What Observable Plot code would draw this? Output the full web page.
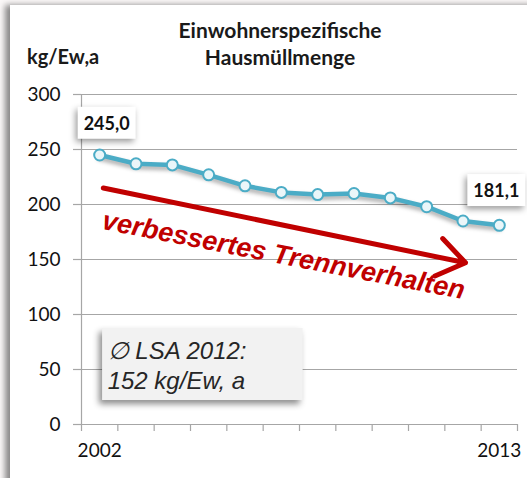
<!DOCTYPE html>
<html>
<head>
<meta charset="utf-8">
<script src="https://cdn.jsdelivr.net/npm/d3@7"></script>
<script src="https://cdn.jsdelivr.net/npm/@observablehq/plot@0.6"></script>
<style>
  html, body { margin: 0; padding: 0; background: #fbf8f8; }
  #wrap { position: relative; width: 527px; height: 478px; overflow: hidden; }
  #frame { position: absolute; left: 10px; top: 5px; width: 600px; height: 600px; background: #fff;
           box-shadow: -5px 0 6px rgba(0,0,0,0.45); }
  #title { position: absolute; left: 130px; width: 300px; top: 16px; text-align: center;
           font: bold 21px Lato, sans-serif; line-height: 27px; color: #1a1a1a; }
  #unit { position: absolute; left: 27px; top: 43px; font: bold 20px Lato, sans-serif; line-height: 27px; color: #1a1a1a; }
  #chart { position: absolute; left: 0; top: 72px; }
</style>
</head>
<body>
<div id="wrap">
  <div id="frame"></div>
  <div id="title">Einwohnerspezifische<br>Hausmüllmenge</div>
  <div id="unit">kg/Ew,a</div>
  <div id="chart"></div>
</div>
<script>
// ---- data ----
const years = [2002, 2003, 2004, 2005, 2006, 2007, 2008, 2009, 2010, 2011, 2012, 2013];
const values = [245.0, 237, 236, 227, 217, 211, 209, 210, 206, 198, 185, 181.1];
const yTicks = [0, 50, 100, 150, 200, 250, 300];
const xLabelYears = [2002, 2013];
const labelIndex = [0, 11];
const labelText = ["245,0", "181,1"];
const labelDx = [7, -3];
const labelDy = [-31, -34];
// annotations (data coordinates)
const arrowYears = [2002.1, 2012.07];
const arrowValues = [215, 147];
const trendText = ["verbessertes Trennverhalten"];
const trendYear = [2007.06];
const trendValue = [153.6];
const boxYears = [2002.08, 2007.6];
const boxValues = [21.8, 87.3];
const lsaText = ["∅ LSA 2012:\n152 kg/Ew, a"];
const lsaYear = [2002.22];
const lsaValue = [54.5];

const data = years.map((y, i) => ({year: y, value: values[i]}));
const labels = labelIndex.map((idx, k) => ({year: years[idx], value: values[idx], text: labelText[k]}));
const bounds = years.map(y => y - 0.5).concat([years[years.length - 1] + 0.5]);

const blue = "#4bacc6";
const red = "#c00000";
const grid = "#a6a6a6";
const boxFill = "#f2f2f2";

const labelMark = (k) => Plot.text([labels[k]], {x: "year", y: "value", text: "text", fontSize: 18, fontWeight: "bold",
  fill: "#111", dx: labelDx[k], dy: labelDy[k]});

const plot = Plot.plot({
  width: 527,
  height: 406,
  marginTop: 22,
  marginBottom: 54,
  marginLeft: 81,
  marginRight: 10,
  style: {background: "transparent", fontFamily: "Lato, sans-serif"},
  x: {type: "linear", domain: [bounds[0], bounds[bounds.length - 1]], axis: null},
  y: {domain: [0, 300], axis: null},
  marks: [
    Plot.gridY(yTicks, {stroke: grid, strokeOpacity: 1, strokeWidth: 1.2}),
    Plot.axisY(yTicks, {tickSize: 8, tickPadding: 13, fontSize: 19, stroke: grid, color: "#111", strokeWidth: 1.2, label: null}),
    Plot.ruleX([bounds[0]], {y1: 0, y2: 300, stroke: grid, strokeWidth: 1.2}),
    Plot.axisX(bounds, {tickSize: 7, tickFormat: () => "", stroke: grid, strokeWidth: 1.2, label: null}),
    Plot.axisX(xLabelYears, {tickSize: 0, tickPadding: 19, fontSize: 19, tickFormat: d => String(d), color: "#111", label: null}),
    // gray annotation box
    Plot.rect([0], {x1: () => boxYears[0], x2: () => boxYears[1], y1: () => boxValues[0], y2: () => boxValues[1],
      fill: boxFill}),
    Plot.text(lsaText, {x: () => lsaYear[0], y: () => lsaValue[0], text: d => d, textAnchor: "start", lineAnchor: "middle",
      lineHeight: 1.25, fontSize: 24, fontStyle: "italic", fontFamily: "Liberation Sans, Arial, sans-serif", fill: "#262626"}),
    // trend arrow
    Plot.arrow([0], {x1: () => arrowYears[0], y1: () => arrowValues[0], x2: () => arrowYears[1], y2: () => arrowValues[1],
      stroke: red, strokeWidth: 5, headLength: 10, headAngle: 70, insetStart: 0, insetEnd: 0}),
    Plot.text(trendText, {x: () => trendYear[0], y: () => trendValue[0], text: d => d, rotate: 11, fontSize: 27,
      fontWeight: "bold", fontStyle: "italic", fontFamily: "Liberation Sans, Arial, sans-serif", fill: red, lineAnchor: "middle"}),
    // data line
    Plot.line(data, {x: "year", y: "value", stroke: blue, strokeWidth: 4.5}),
    Plot.dot(data, {x: "year", y: "value", r: 5.5, fill: "#eaf6f9", stroke: blue, strokeWidth: 2}),
    // value labels
    labelMark(0),
    labelMark(1)
  ]
});

document.getElementById("chart").appendChild(plot);

// shadows (mark-level styling after render)
plot.querySelectorAll("rect").forEach(r => {
  if ((r.getAttribute("fill") || "").toLowerCase() === boxFill ||
      (r.parentNode.getAttribute("fill") || "").toLowerCase() === boxFill) {
    r.style.filter = "drop-shadow(-3px 4px 3px rgba(0,0,0,0.45))";
  }
});
plot.querySelectorAll("path").forEach(p => {
  const s = (p.getAttribute("stroke") || p.parentNode.getAttribute("stroke") || "").toLowerCase();
  if (s === blue && !p.closest("g[aria-label='dot']")) {
    p.style.filter = "drop-shadow(0px 3px 2px rgba(0,0,0,0.35))";
  }
});

// white boxes with shadow behind the value labels
plot.querySelectorAll("text").forEach(t => {
  if (!labelText.includes(t.textContent)) return;
  const b = t.getBBox();
  const r = document.createElementNS("http://www.w3.org/2000/svg", "rect");
  const padX = 6, padY = 5;
  r.setAttribute("x", b.x - padX);
  r.setAttribute("y", b.y - padY);
  r.setAttribute("width", b.width + 2 * padX);
  r.setAttribute("height", b.height + 2 * padY);
  r.setAttribute("fill", "#fff");
  if (t.getAttribute("transform")) r.setAttribute("transform", t.getAttribute("transform"));
  r.style.filter = "drop-shadow(-2px 3px 3px rgba(0,0,0,0.4))";
  t.parentNode.insertBefore(r, t);
});
</script>
</body>
</html>
